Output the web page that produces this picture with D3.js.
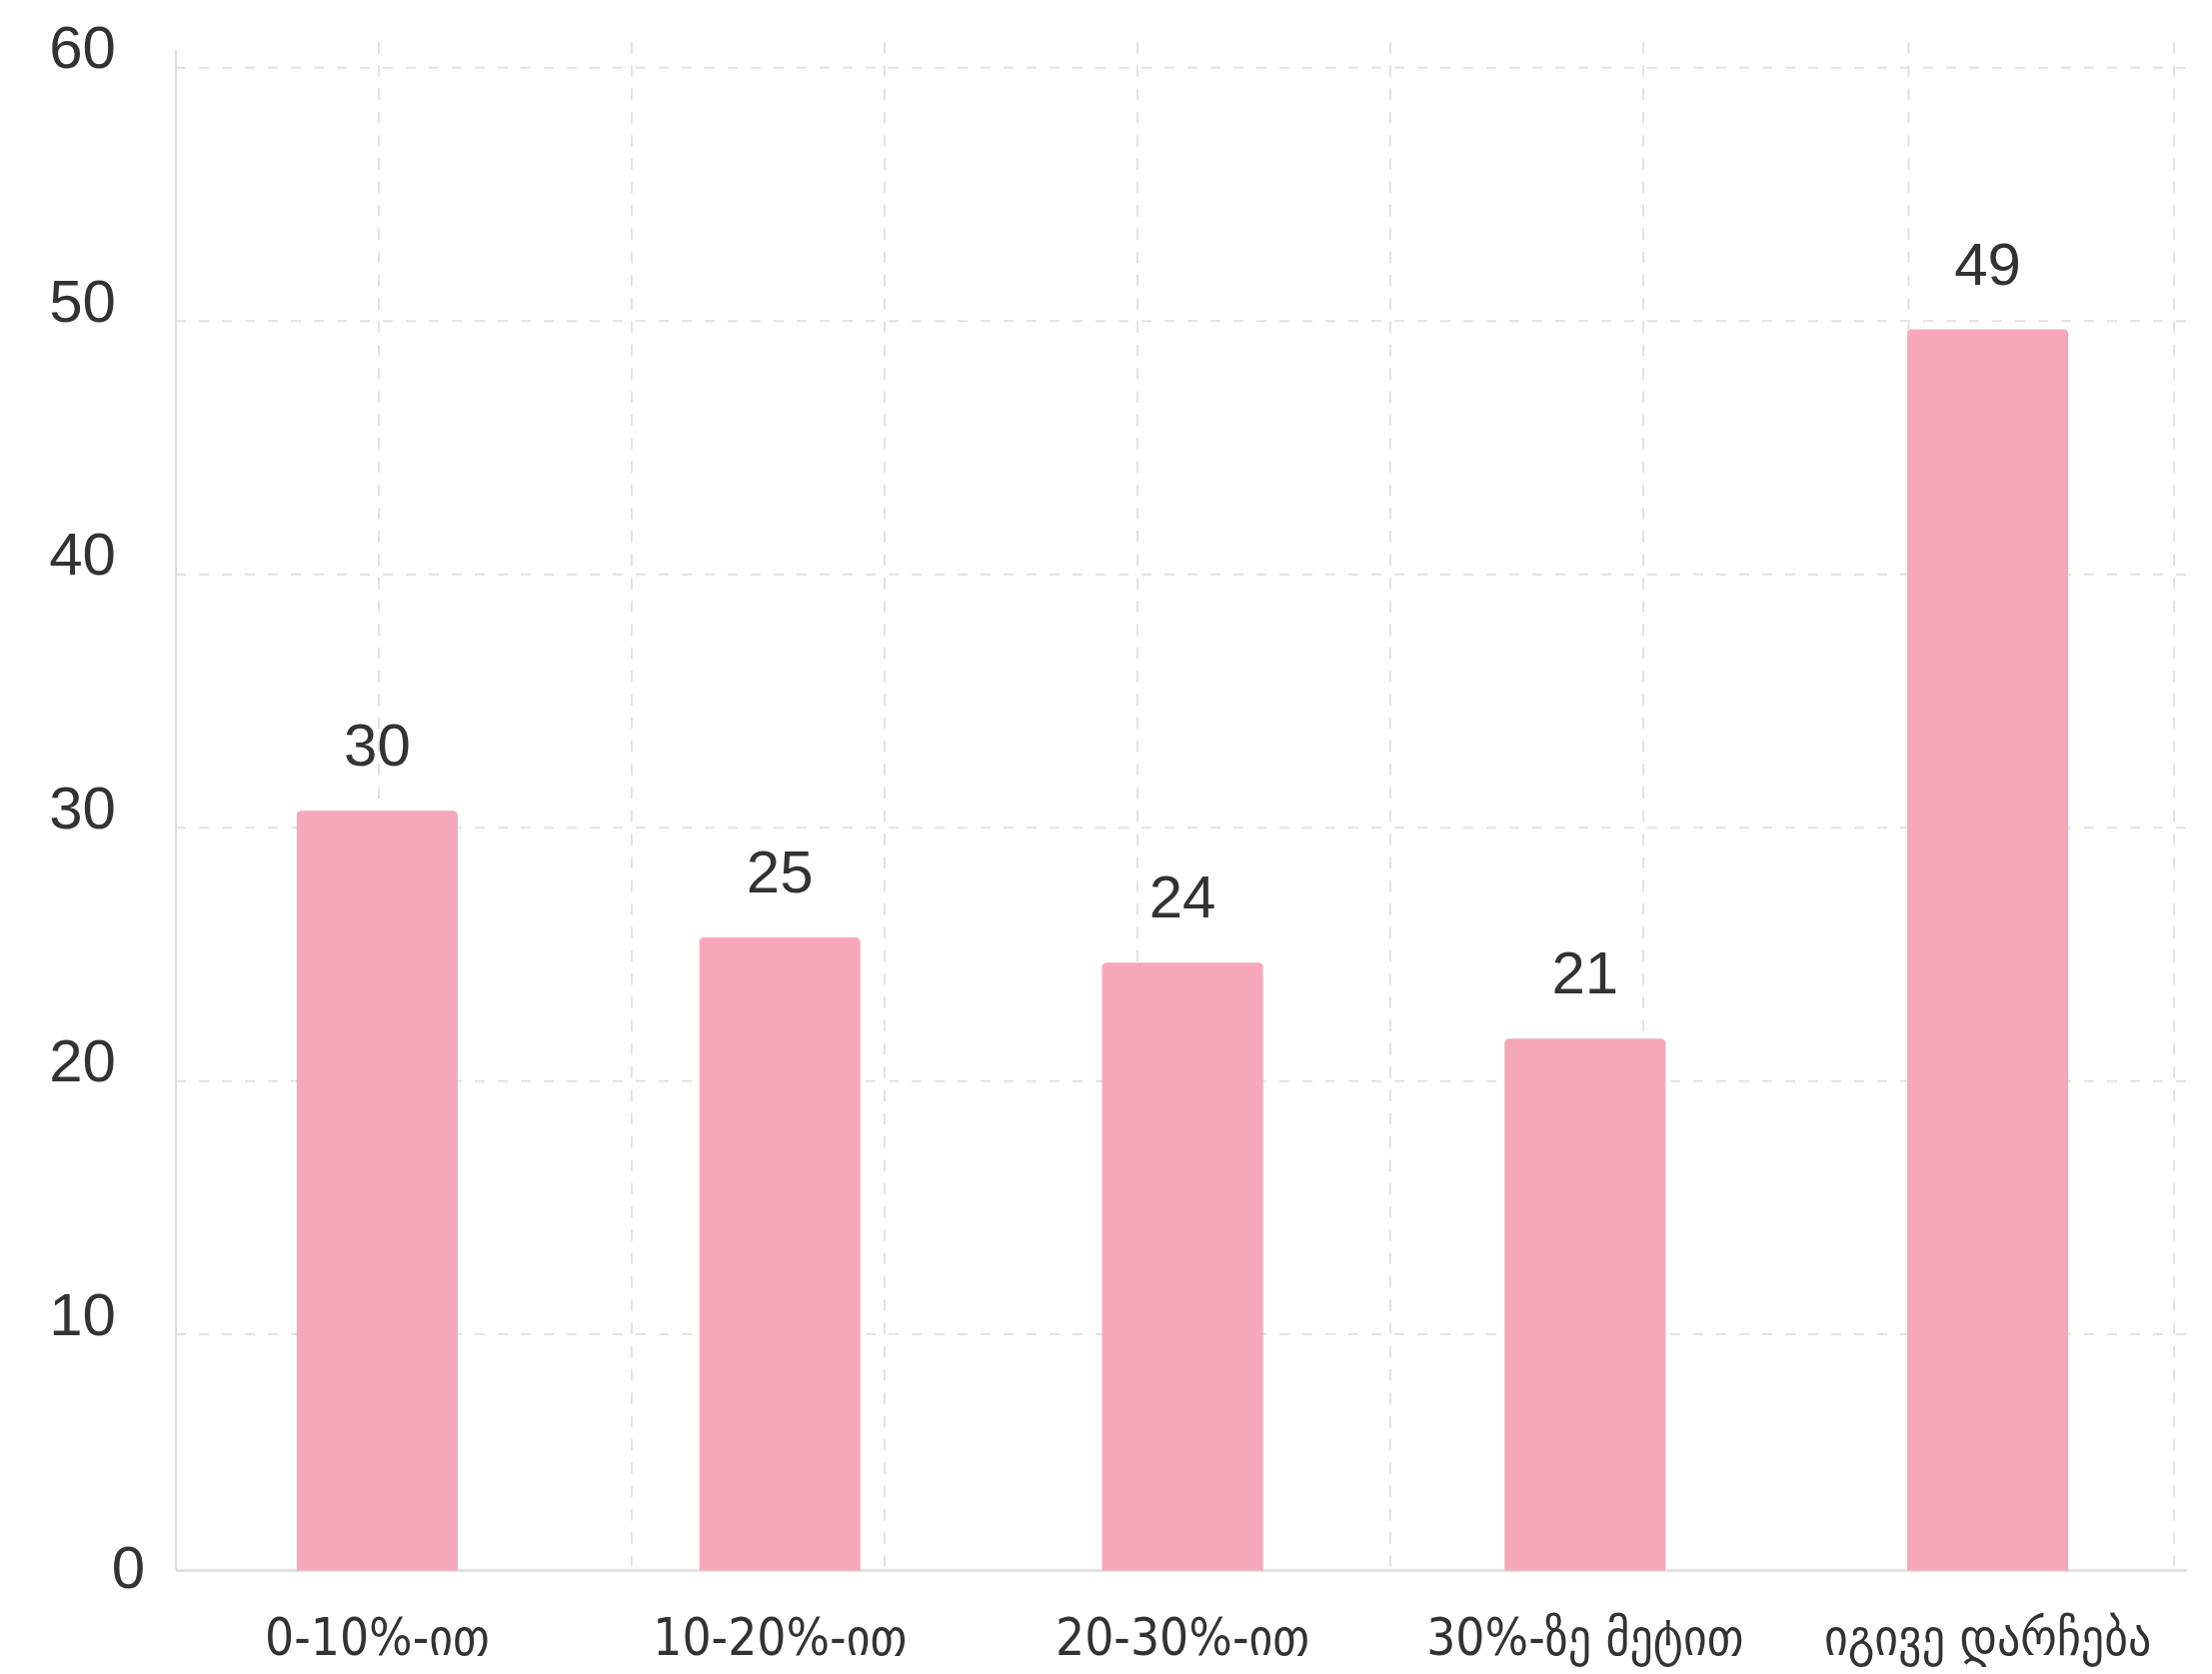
<!DOCTYPE html>
<html>
<head>
<meta charset="utf-8">
<script src="https://cdn.jsdelivr.net/npm/d3@7"></script>
<style>
  body { margin: 0; background: #fff; }
  svg { display: block; }
</style>
</head>
<body>
<svg id="chart" width="2213" height="1675"></svg>
<script>
// chart data
var categories = ["0-10%-ით", "10-20%-ით", "20-30%-ით", "30%-ზე მეტით", "იგივე დარჩება"];
var values = [30, 25, 24, 21, 49];
var yTicks = [0, 10, 20, 30, 40, 50, 60];
var gridCols = [0, 1, 2, 3, 4, 5, 6, 7];

var svg = d3.select("#chart");

// plot area
var left = 176, right = 2190;
var shift = 17; // bars and baseline sit a bit above the zero line

var y = d3.scaleLinear().domain([0, 60]).range([1588.6, 67.7]);
var x = d3.scaleBand().domain(categories).range([left, right])
    .paddingInner(0.6).paddingOuter(0.3);
// vertical grid spacing widens a little on the right
var gx = d3.scaleLinear().domain([0, 5, 7]).range([379, 1644, 2175]);

var baseY = y(0) - shift;
var gridColor = "#e2e2e2";

// horizontal grid
svg.append("g").selectAll("line")
    .data(yTicks.filter(function(d) { return d > 0; }))
    .enter().append("line")
    .attr("x1", left).attr("x2", right - 2)
    .attr("y1", function(d) { return y(d); })
    .attr("y2", function(d) { return y(d); })
    .attr("stroke", gridColor)
    .attr("stroke-width", 2)
    .attr("stroke-dasharray", "10,13");

// vertical grid
svg.append("g").selectAll("line")
    .data(gridCols)
    .enter().append("line")
    .attr("x1", function(d) { return gx(d); })
    .attr("x2", function(d) { return gx(d); })
    .attr("y1", 42).attr("y2", baseY - 4)
    .attr("stroke", gridColor)
    .attr("stroke-width", 2)
    .attr("stroke-dasharray", "11.5,11.8");

// axis lines
svg.append("line")
    .attr("x1", left).attr("x2", left)
    .attr("y1", 50).attr("y2", baseY)
    .attr("stroke", "#dcdcdc").attr("stroke-width", 2);
svg.append("line")
    .attr("x1", left).attr("x2", right - 2)
    .attr("y1", baseY).attr("y2", baseY)
    .attr("stroke", "#dcdcdc").attr("stroke-width", 2.5);

// y tick labels
var yAxis = svg.append("g")
    .attr("transform", "translate(" + left + ",0)")
    .call(d3.axisLeft(y).tickValues(yTicks).tickSize(0).tickPadding(60));
yAxis.select(".domain").remove();
yAxis.selectAll("text")
    .attr("dy", 0)
    .attr("x", function(d) { return d === 0 ? -31 : -60; })
    .style("font-family", "'Liberation Sans', Arial, sans-serif")
    .style("font-size", "60px")
    .style("fill", "#333");

// top-rounded bar path
function barPath(d, i) {
    var x0 = x(categories[i]), w = x.bandwidth();
    var top = y(d) - shift, r = 5;
    return "M" + x0 + "," + baseY +
        "V" + (top + r) +
        "Q" + x0 + "," + top + " " + (x0 + r) + "," + top +
        "H" + (x0 + w - r) +
        "Q" + (x0 + w) + "," + top + " " + (x0 + w) + "," + (top + r) +
        "V" + baseY + "Z";
}

svg.append("g").selectAll("path")
    .data(values)
    .enter().append("path")
    .attr("d", barPath)
    .attr("fill", "#f6a8ba");

// value labels
svg.append("g").selectAll("text")
    .data(values)
    .enter().append("text")
    .attr("x", function(d, i) { return x(categories[i]) + x.bandwidth() / 2; })
    .attr("y", function(d) { return y(d) - shift - 45; })
    .attr("text-anchor", "middle")
    .style("font-family", "'Liberation Sans', Arial, sans-serif")
    .style("font-size", "60px")
    .style("fill", "#333")
    .text(function(d) { return d; });

// x labels
svg.append("g").selectAll("text")
    .data(categories)
    .enter().append("text")
    .attr("x", function(d) { return x(d) + x.bandwidth() / 2; })
    .attr("y", 1656)
    .attr("text-anchor", "middle")
    .style("font-family", "'DejaVu Sans Condensed', 'DejaVu Sans', sans-serif")
    .style("font-stretch", "condensed")
    .style("font-size", "51px")
    .style("fill", "#333")
    .text(function(d) { return d; });
</script>
</body>
</html>
